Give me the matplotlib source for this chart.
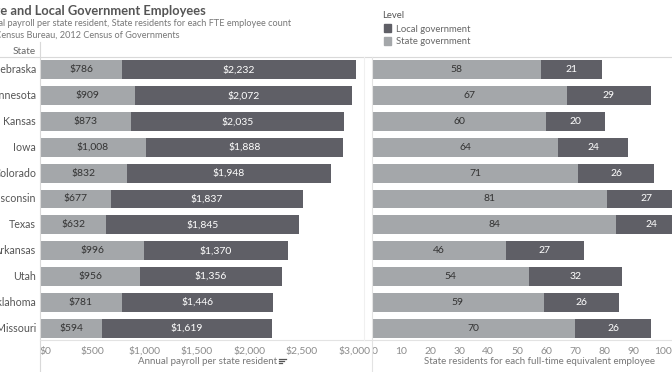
import matplotlib
matplotlib.use("Agg")
import matplotlib.pyplot as plt
from matplotlib.patches import Rectangle
from matplotlib.lines import Line2D

states = ["Nebraska", "Minnesota", "Kansas", "Iowa", "Colorado", "Wisconsin",
          "Texas", "Arkansas", "Utah", "Oklahoma", "Missouri"]
payroll_state = [786, 909, 873, 1008, 832, 677, 632, 996, 956, 781, 594]
payroll_local = [2232, 2072, 2035, 1888, 1948, 1837, 1845, 1370, 1356, 1446, 1619]
res_state = [58, 67, 60, 64, 71, 81, 84, 46, 54, 59, 70]
res_local = [21, 29, 20, 24, 26, 27, 24, 27, 32, 26, 26]
payroll_ticks = [0, 500, 1000, 1500, 2000, 2500, 3000]
payroll_tick_labels = ["$0", "$500", "$1,000", "$1,500", "$2,000", "$2,500", "$3,000"]
resident_ticks = [0, 10, 20, 30, 40, 50, 60, 70, 80, 90, 100]

title = "State and Local Government Employees"
subtitle1 = "Annual payroll per state resident, State residents for each FTE employee count"
subtitle2 = "U.S. Census Bureau, 2012 Census of Governments"

plt.rcParams['font.family'] = ['Lato', 'DejaVu Sans']

W, H = 672, 372
fig = plt.figure(figsize=(W / 100, H / 100), dpi=100)

DARK = '#5f5f66'
LIGHT = '#a4a7aa'
GRID = '#e3e3e3'
TICK = '#8c8c8c'
TXT = '#555555'

top, bot = 57, 341
axL = fig.add_axes([40 / W, 1 - bot / H, 324 / W, (bot - top) / H])
axR = fig.add_axes([372 / W, 1 - bot / H, 300 / W, (bot - top) / H])

n = len(states)
ypos = list(range(n))
bh = 0.73

def fmt(v):
    return "${:,}".format(v)

# left panel
axL.barh(ypos, payroll_state, height=bh, color=LIGHT)
axL.barh(ypos, payroll_local, left=payroll_state, height=bh, color=DARK)
for i in range(n):
    axL.text(payroll_state[i] / 2, i, fmt(payroll_state[i]), ha='center', va='center',
             fontsize=7.5, color='#333333')
    axL.text(payroll_state[i] + payroll_local[i] / 2, i, fmt(payroll_local[i]),
             ha='center', va='center', fontsize=7.5, color='white')
axL.set_xlim(0, 324 / 0.1047)

# right panel
axR.barh(ypos, res_state, height=bh, color=LIGHT)
axR.barh(ypos, res_local, left=res_state, height=bh, color=DARK)
for i in range(n):
    axR.text(res_state[i] / 2, i, str(res_state[i]), ha='center', va='center',
             fontsize=7.5, color='#333333')
    axR.text(res_state[i] + res_local[i] / 2, i, str(res_local[i]),
             ha='center', va='center', fontsize=7.5, color='white', clip_on=True)
axR.set_xlim(0, 300 / 2.907)

for ax in (axL, axR):
    ax.set_ylim(n - 0.5, -0.5)
    ax.set_yticks([])
    for s in ax.spines.values():
        s.set_visible(False)
    ax.tick_params(axis='x', length=0, pad=4, labelsize=7.5, labelcolor=TICK)

axL.set_xticks(payroll_ticks, payroll_tick_labels)
axL.get_xticklabels()[0].set_ha('left')
axR.set_xticks(resident_ticks, [str(t) for t in resident_ticks])
axR.get_xticklabels()[0].set_ha('left')

# state labels
for i, s in enumerate(states):
    y = top + (bot - top) * (i + 0.5) / n
    fig.text(36 / W, 1 - y / H, s, ha='right', va='center', fontsize=7.7, color=TXT)
fig.text(36 / W, 1 - 51 / H, "State", ha='right', va='center', fontsize=7.2, color='#666666')

# lines
fig.add_artist(Line2D([0, 1], [1 - 57 / H] * 2, color='#d9d9d9', lw=0.8))
fig.add_artist(Line2D([40 / W] * 2, [1 - 42 / H, 0], color='#d9d9d9', lw=0.8))
fig.add_artist(Line2D([40 / W, 1], [1 - 340 / H] * 2, color=GRID, lw=0.8))
fig.add_artist(Line2D([372 / W] * 2, [1 - 57 / H, 0], color=GRID, lw=0.8))
fig.add_artist(Line2D([364 / W] * 2, [1 - 57 / H, 1 - 340 / H], color='#f0f0f0', lw=0.8))

# titles, offset so that the left part is cut like the reference
renderer = fig.canvas.get_renderer()
probe = fig.text(0, 0, "Stat", fontsize=9.3, fontweight='bold')
wpre = probe.get_window_extent(renderer).width
probe.remove()
x0 = -wpre / W
fig.text(x0, 1 - 11 / H, title, ha='left', va='center', fontsize=9.3, fontweight='bold', color='#555555')
fig.text(x0, 1 - 24 / H, subtitle1, ha='left', va='center', fontsize=6.6, color='#777777')
fig.text(x0, 1 - 35 / H, subtitle2, ha='left', va='center', fontsize=6.6, color='#777777')

# legend
fig.text(382 / W, 1 - 15 / H, "Level", ha='left', va='center', fontsize=6.8, color=TXT)
fig.add_artist(Rectangle((384 / W, 1 - 32 / H), 7 / W, 8 / H, color=DARK))
fig.add_artist(Rectangle((384 / W, 1 - 45 / H), 7 / W, 8 / H, color=LIGHT))
fig.text(396 / W, 1 - 29 / H, "Local government", ha='left', va='center', fontsize=6.8, color='#666666')
fig.text(396 / W, 1 - 42 / H, "State government", ha='left', va='center', fontsize=6.8, color='#666666')

# axis titles
t1 = fig.text(208 / W, 1 - 362 / H, "Annual payroll per state resident", ha='center', va='center',
              fontsize=7, color='#777777')
fig.text(539 / W, 1 - 362 / H, "State residents for each full-time equivalent employee",
         ha='center', va='center', fontsize=7, color='#777777')
# sort icon right after the axis title
xe = t1.get_window_extent(renderer).x1 + 1.5
for l, dy in [(7, 0), (5, 2.3), (3, 4.6)]:
    fig.add_artist(Line2D([xe / W, (xe + l) / W], [1 - (358.5 + dy) / H] * 2, color='#555555', lw=0.9))

fig.savefig("out.png", dpi=100)
